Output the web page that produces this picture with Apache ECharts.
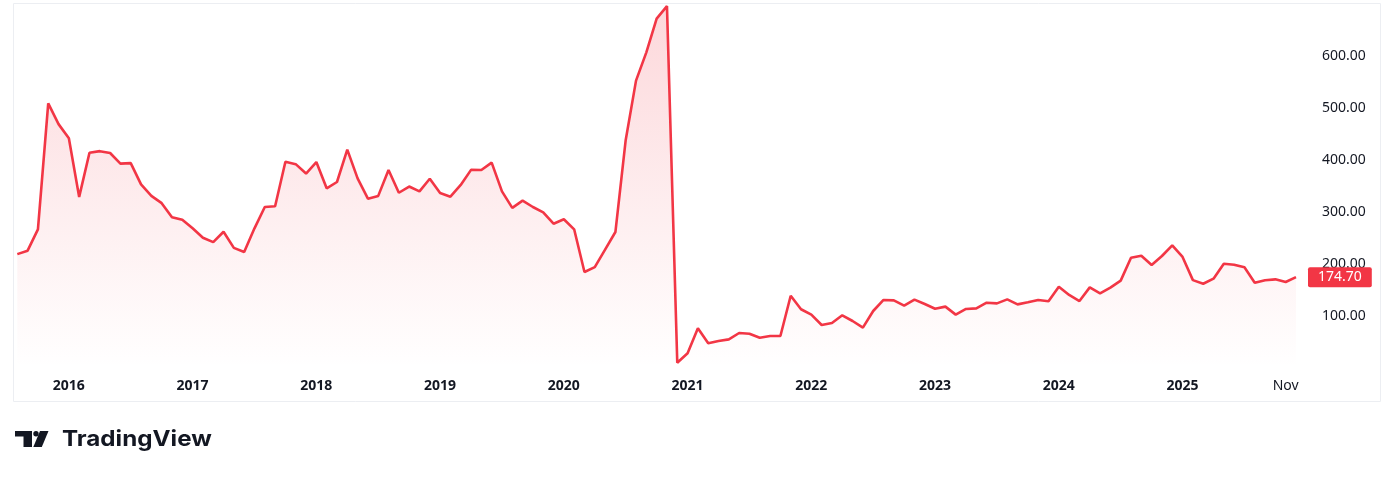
<!DOCTYPE html>
<html>
<head>
<meta charset="utf-8">
<script src="https://cdn.jsdelivr.net/npm/echarts@6/dist/echarts.min.js"></script>
<style>
html,body{margin:0;padding:0;background:#fff;}
#chart{width:1394px;height:478px;}
</style>
</head>
<body>
<div id="chart"></div>
<script>
const months = [
'2015-08','2015-09','2015-10','2015-11','2015-12',
'2016-01','2016-02','2016-03','2016-04','2016-05','2016-06','2016-07','2016-08','2016-09','2016-10','2016-11','2016-12',
'2017-01','2017-02','2017-03','2017-04','2017-05','2017-06','2017-07','2017-08','2017-09','2017-10','2017-11','2017-12',
'2018-01','2018-02','2018-03','2018-04','2018-05','2018-06','2018-07','2018-08','2018-09','2018-10','2018-11','2018-12',
'2019-01','2019-02','2019-03','2019-04','2019-05','2019-06','2019-07','2019-08','2019-09','2019-10','2019-11','2019-12',
'2020-01','2020-02','2020-03','2020-04','2020-05','2020-06','2020-07','2020-08','2020-09','2020-10','2020-11','2020-12',
'2021-01','2021-02','2021-03','2021-04','2021-05','2021-06','2021-07','2021-08','2021-09','2021-10','2021-11','2021-12',
'2022-01','2022-02','2022-03','2022-04','2022-05','2022-06','2022-07','2022-08','2022-09','2022-10','2022-11','2022-12',
'2023-01','2023-02','2023-03','2023-04','2023-05','2023-06','2023-07','2023-08','2023-09','2023-10','2023-11','2023-12',
'2024-01','2024-02','2024-03','2024-04','2024-05','2024-06','2024-07','2024-08','2024-09','2024-10','2024-11','2024-12',
'2025-01','2025-02','2025-03','2025-04','2025-05','2025-06','2025-07','2025-08','2025-09','2025-10','2025-11','2025-12'
];

const prices = [
219, 225.6, 266.7, 509, 469,
441.7, 329, 414, 417, 413.5, 393, 394, 353, 331, 317, 290, 285,
268.6, 250.6, 242, 262, 231, 223, 268.6, 309.6, 311, 396.7, 392, 374,
396, 345.5, 357.7, 420, 364.7, 325.6, 331, 380.8, 337, 349, 339.7, 364,
336.5, 329.5, 352, 381, 380.8, 394.9, 339.7, 308, 321.8, 309.6, 299.4, 277.5,
286, 266.7, 184.6, 194, 227.5, 261.5, 438.5, 552.6, 607, 672, 696, 10.2,
28.3, 76.3, 47.4, 52, 55, 67.3, 66, 58.3, 61.5, 61.5, 139, 113,
102.6, 82.7, 86.5, 101.3, 90.4, 77.6, 109.6, 130.8, 130, 119.8, 131.4, 123,
114, 118, 102.6, 113.5, 114.7, 125.6, 124.3, 132, 122.4, 126.3, 130.8, 128.3,
156.4, 140.4, 128.8, 155, 143.6, 154.5, 168, 212, 216, 198, 215.4, 236,
213.5, 169, 162, 171.8, 200.6, 198.7, 193.6, 164, 168.7, 170.5, 165.4, 174.7
];

const tickMonths = ['2016-01','2017-01','2018-01','2019-01','2020-01','2021-01','2022-01','2023-01','2024-01','2025-01','2025-11'];
const tickTexts  = ['2016','2017','2018','2019','2020','2021','2022','2023','2024','2025','Nov'];
const lastPrice = prices[prices.length - 1];

const FONT = '"Noto Sans", sans-serif';
const chart = echarts.init(document.getElementById('chart'), null, {renderer: 'canvas'});
chart.setOption({
  animation: false,
  backgroundColor: '#ffffff',
  grid: {left: 17.3, right: 98, top: 4, bottom: 110, containLabel: false},
  xAxis: {
    type: 'category',
    data: months,
    boundaryGap: false,
    axisLine: {show: false},
    axisTick: {show: false},
    splitLine: {show: false},
    axisLabel: {
      margin: 11,
      interval: function (idx, val) { return tickMonths.indexOf(val) >= 0; },
      formatter: function (val) {
        const t = tickTexts[tickMonths.indexOf(val)];
        return /^\d{4}$/.test(t) ? '{y|' + t + '}' : '{m|' + t + '}';
      },
      rich: {
        y: {fontFamily: FONT, fontWeight: 'bold', fontSize: 14, color: '#131722'},
        m: {fontFamily: FONT, fontWeight: 'normal', fontSize: 14, color: '#131722'}
      }
    }
  },
  yAxis: {
    type: 'value',
    position: 'right',
    min: 0, max: 700, interval: 100,
    axisLine: {show: false},
    axisTick: {show: false},
    splitLine: {show: false},
    axisLabel: {
      margin: 26,
      showMinLabel: false,
      showMaxLabel: false,
      fontFamily: FONT,
      fontSize: 14,
      color: '#131722',
      formatter: function (v) { return v.toFixed(2); }
    }
  },
  series: [{
    type: 'line',
    data: prices,
    showSymbol: false,
    symbol: 'none',
    z: 3,
    lineStyle: {color: '#F23645', width: 2.6},
    itemStyle: {color: '#F23645'},
    areaStyle: {
      color: new echarts.graphic.LinearGradient(0, 0, 0, 1, [
        {offset: 0, color: 'rgba(242,54,69,0.28)'},
        {offset: 1, color: 'rgba(242,54,69,0.0)'}
      ])
    },
    markLine: {
      silent: true,
      symbol: ['none', 'none'],
      lineStyle: {color: 'rgba(0,0,0,0)', width: 1, type: 'solid'},
      data: [{yAxis: lastPrice}],
      label: {
        show: true,
        position: 'end',
        distance: 12,
        formatter: function (p) { return Number(p.value).toFixed(2); },
        backgroundColor: '#F23645',
        borderRadius: 2,
        color: '#ffffff',
        fontFamily: FONT,
        fontSize: 14,
        lineHeight: 14,
        padding: [3, 10, 3, 10]
      }
    }
  }],
  graphic: [
    {type: 'rect', shape: {x: 13.5, y: 3.5, width: 1367, height: 398}, style: {fill: 'none', stroke: '#eceef2', lineWidth: 1}, z: -1},
    {type: 'rect', shape: {x: 15, y: 431, width: 17, height: 5.5}, style: {fill: '#131722'}},
    {type: 'rect', shape: {x: 23.5, y: 431, width: 8.5, height: 16}, style: {fill: '#131722'}},
    {type: 'circle', shape: {cx: 36, cy: 433.7, r: 2.7}, style: {fill: '#131722'}},
    {type: 'polygon', shape: {points: [[40, 431], [48.5, 431], [41.8, 447], [33.3, 447]]}, style: {fill: '#131722'}},
    {type: 'text', x: 62, y: 439, scaleX: 1.1, originX: 0, style: {text: 'TradingView', font: 'bold 22px Inter', fill: '#131722', textVerticalAlign: 'middle'}}
  ]
});
</script>
</body>
</html>
